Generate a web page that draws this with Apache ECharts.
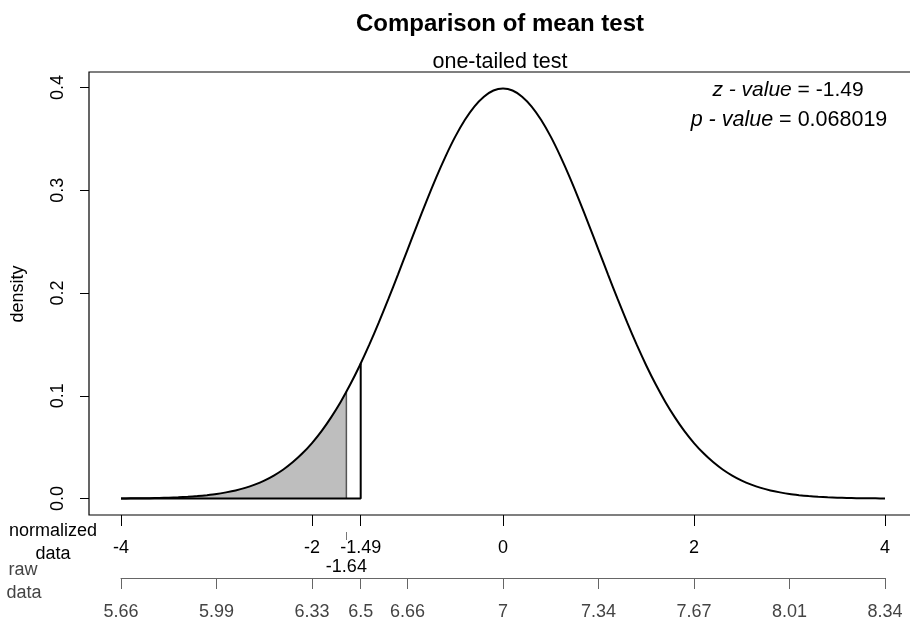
<!DOCTYPE html>
<html>
<head>
<meta charset="utf-8">
<title>Comparison of mean test</title>
<script src="https://cdn.jsdelivr.net/npm/echarts@6/dist/echarts.min.js"></script>
<style>
  html, body { margin: 0; padding: 0; background: #fff; }
  #chart { width: 910px; height: 623px; }
</style>
</head>
<body>
<div id="chart"></div>
<script>
// Standard normal density sampled every 0.1 from -4 to 4
const zStart = -4;
const zStep = 0.1;
const density = [
  0.0001, 0.0002, 0.0003, 0.0004, 0.0006, 0.0009, 0.0012, 0.0017, 0.0024, 0.0033,
  0.0044, 0.0060, 0.0079, 0.0104, 0.0136, 0.0175, 0.0224, 0.0283, 0.0355, 0.0440,
  0.0540, 0.0656, 0.0790, 0.0940, 0.1109, 0.1295, 0.1497, 0.1714, 0.1942, 0.2179,
  0.2420, 0.2661, 0.2897, 0.3123, 0.3332, 0.3521, 0.3683, 0.3814, 0.3910, 0.3970,
  0.3989,
  0.3970, 0.3910, 0.3814, 0.3683, 0.3521, 0.3332, 0.3123, 0.2897, 0.2661, 0.2420,
  0.2179, 0.1942, 0.1714, 0.1497, 0.1295, 0.1109, 0.0940, 0.0790, 0.0656, 0.0540,
  0.0440, 0.0355, 0.0283, 0.0224, 0.0175, 0.0136, 0.0104, 0.0079, 0.0060, 0.0044,
  0.0033, 0.0024, 0.0017, 0.0012, 0.0009, 0.0006, 0.0004, 0.0003, 0.0002, 0.0001
];

// Test statistic and critical value
const zValue = -1.49;
const zValueDensity = 0.1315;
const pValue = 0.068019;
const zCritical = -1.64;
const zCriticalDensity = 0.1040;

// Axis ticks
const normTicks = [-4, -2, -1.49, 0, 2, 4];
const rawTickZ = [-4, -3, -2, -1.49, -1, 0, 1, 2, 3, 4];
const rawTickLabels = ['5.66', '5.99', '6.33', '6.5', '6.66', '7', '7.34', '7.67', '8.01', '8.34'];
const yTicks = [0, 0.1, 0.2, 0.3, 0.4];

const FONT = '"Liberation Sans", Arial, Helvetica, sans-serif';

const curve = density.map((d, i) => [+(zStart + i * zStep).toFixed(2), d]);
const tail = curve.filter(p => p[0] < zCritical).concat([[zCritical, zCriticalDensity]]);

const X_MIN = -4.335, X_MAX = 4.335;

const chart = echarts.init(document.getElementById('chart'), null, { renderer: 'canvas' });

chart.setOption({
  animation: false,
  backgroundColor: '#ffffff',
  textStyle: { fontFamily: FONT },
  title: [
    {
      text: 'Comparison of mean test',
      left: 495, top: 7, textAlign: 'center',
      textStyle: { fontFamily: FONT, fontSize: 24, fontWeight: 'bold', color: '#000' }
    },
    {
      text: 'one-tailed test',
      left: 495, top: 46, textAlign: 'center',
      textStyle: { fontFamily: FONT, fontSize: 21.5, fontWeight: 'normal', color: '#000' }
    }
  ],
  grid: [
    { left: 89, top: 72, width: 828, height: 443, show: true, borderColor: '#000', borderWidth: 1.2, backgroundColor: 'transparent', outerBoundsMode: 'none', containLabel: false },
    { left: 89, top: 531, width: 828, height: 1, show: false, outerBoundsMode: 'none', containLabel: false },
    { left: 121, top: 577, width: 764, height: 1, show: false, outerBoundsMode: 'none', containLabel: false }
  ],
  xAxis: [
    {
      type: 'value', gridIndex: 0, min: X_MIN, max: X_MAX, position: 'bottom',
      axisLine: { show: false, onZero: false },
      splitLine: { show: false },
      axisTick: { show: true, customValues: normTicks, length: 11, lineStyle: { color: '#000', width: 1 } },
      axisLabel: {
        customValues: normTicks, margin: 24, fontSize: 18, color: '#000', fontFamily: FONT,
        formatter: v => String(v)
      }
    },
    {
      type: 'value', gridIndex: 1, min: X_MIN, max: X_MAX, position: 'bottom',
      axisLine: { show: false, onZero: false },
      splitLine: { show: false },
      axisTick: { show: true, customValues: [zCritical], length: 8, lineStyle: { color: '#777', width: 1 } },
      axisLabel: {
        customValues: [zCritical], margin: 26, fontSize: 18, color: '#000', fontFamily: FONT,
        formatter: v => String(v)
      }
    },
    {
      type: 'value', gridIndex: 2, min: -4, max: 4, position: 'bottom',
      axisLine: { show: true, onZero: false, lineStyle: { color: '#666', width: 1 } },
      splitLine: { show: false },
      axisTick: { show: true, customValues: rawTickZ, length: 11, lineStyle: { color: '#666', width: 1 } },
      axisLabel: {
        customValues: rawTickZ, margin: 25, fontSize: 18, color: '#444', fontFamily: FONT,
        formatter: v => rawTickLabels[rawTickZ.indexOf(v)]
      }
    }
  ],
  yAxis: [
    {
      type: 'value', gridIndex: 0, min: -0.016, max: 0.415, position: 'left',
      axisLine: { show: false, onZero: false },
      splitLine: { show: false },
      axisTick: { show: true, customValues: yTicks, length: 9, lineStyle: { color: '#000', width: 1 } },
      axisLabel: {
        customValues: yTicks, rotate: 90, margin: 22, fontSize: 18, color: '#000', fontFamily: FONT,
        formatter: v => v.toFixed(1)
      }
    },
    { type: 'value', gridIndex: 1, show: false },
    { type: 'value', gridIndex: 2, show: false }
  ],
  graphic: [
    {
      type: 'text', x: 18, y: 294, rotation: Math.PI / 2,
      style: { text: 'density', font: '18px ' + FONT, fill: '#000', textAlign: 'center', textVerticalAlign: 'middle' }
    },
    {
      type: 'text', x: 53, y: 531,
      style: { text: 'normalized', font: '18px ' + FONT, fill: '#000', textAlign: 'center', textVerticalAlign: 'middle' }
    },
    {
      type: 'text', x: 53, y: 554,
      style: { text: 'data', font: '18px ' + FONT, fill: '#000', textAlign: 'center', textVerticalAlign: 'middle' }
    },
    {
      type: 'text', x: 23, y: 570,
      style: { text: 'raw', font: '18px ' + FONT, fill: '#444', textAlign: 'center', textVerticalAlign: 'middle' }
    },
    {
      type: 'text', x: 24, y: 593,
      style: { text: 'data', font: '18px ' + FONT, fill: '#444', textAlign: 'center', textVerticalAlign: 'middle' }
    },
    {
      type: 'text', x: 788, y: 90,
      style: {
        text: '{i|z - value} = ' + zValue,
        font: '21px ' + FONT, fill: '#000', textAlign: 'center', textVerticalAlign: 'middle',
        rich: { i: { fontStyle: 'italic', fontSize: 21, fontFamily: FONT } }
      }
    },
    {
      type: 'text', x: 789, y: 120,
      style: {
        text: '{i|p - value} = ' + pValue,
        font: '21.5px ' + FONT, fill: '#000', textAlign: 'center', textVerticalAlign: 'middle',
        rich: { i: { fontStyle: 'italic', fontSize: 21.5, fontFamily: FONT } }
      }
    }
  ],
  series: [
    {
      // shaded rejection region
      type: 'line', xAxisIndex: 0, yAxisIndex: 0,
      data: tail, showSymbol: false, silent: true,
      lineStyle: { width: 0 },
      areaStyle: { color: '#bebebe', opacity: 1, origin: 0 },
      z: 1
    },
    {
      // right edge of the shaded region
      type: 'line', xAxisIndex: 0, yAxisIndex: 0,
      data: [[zCritical, 0], [zCritical, zCriticalDensity]],
      showSymbol: false, silent: true,
      lineStyle: { color: '#555', width: 1.5 },
      z: 2
    },
    {
      // outline up to the observed statistic
      type: 'line', xAxisIndex: 0, yAxisIndex: 0,
      data: [[-4, 0], [zValue, 0], [zValue, zValueDensity]],
      showSymbol: false, silent: true,
      lineStyle: { color: '#000', width: 2 },
      z: 3
    },
    {
      // density curve
      type: 'line', xAxisIndex: 0, yAxisIndex: 0,
      data: curve, showSymbol: false, silent: true, smooth: 0.2,
      lineStyle: { color: '#000', width: 2 },
      z: 4
    }
  ]
});
</script>
</body>
</html>
